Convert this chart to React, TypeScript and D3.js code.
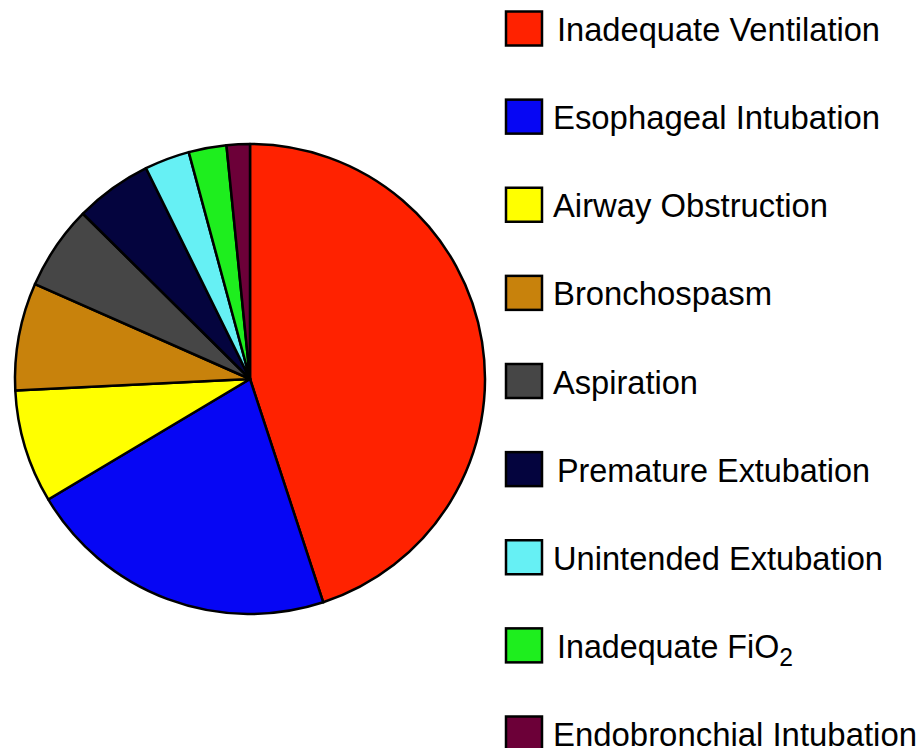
import React from "react";
import * as d3 from "d3";

const categories = [
  "Inadequate Ventilation",
  "Esophageal Intubation",
  "Airway Obstruction",
  "Bronchospasm",
  "Aspiration",
  "Premature Extubation",
  "Unintended Extubation",
  "Inadequate FiO2",
  "Endobronchial Intubation",
];
const values = [45, 21.5, 7.8, 7.4, 5.8, 5.3, 3.1, 2.6, 1.6];
const colors = [
  "#ff2200",
  "#0606f4",
  "#ffff00",
  "#c8820c",
  "#464646",
  "#04043e",
  "#66f0f4",
  "#1eee1e",
  "#6c0038",
];
const labelWidths = [323, 327, 275, 219, 145, 313, 330, 236, 364];
const labelStarts = [557, 553, 553, 553, 553, 557, 553, 557, 553];

export default function App() {
  const W = 921;
  const H = 748;
  const cx = 250;
  const cy = 379;
  const r = 235;

  const pie = d3.pie<number>().sort(null).value((d) => d)(values);
  const arc = d3.arc<d3.PieArcDatum<number>>().innerRadius(0).outerRadius(r);

  const legendY = d3
    .scalePoint<number>()
    .domain(d3.range(categories.length))
    .range([28.5, 733.5]);

  return (
    <svg
      width={W}
      height={H}
      style={{ position: "absolute", left: 0, top: 0, background: "#fff" }}
    >
      <g transform={`translate(${cx},${cy})`}>
        {pie.map((p, i) => (
          <path
            key={i}
            d={arc(p) || ""}
            fill={colors[i]}
            stroke="#000"
            strokeWidth={2.5}
            strokeLinejoin="round"
          />
        ))}
      </g>
      <g>
        {categories.map((c, i) => {
          const y = legendY(i) as number;
          const isFi = c.endsWith("FiO2");
          return (
            <g key={c}>
              <rect
                x={506}
                y={y - 17}
                width={36}
                height={34}
                fill={colors[i]}
                stroke="#000"
                strokeWidth={2.5}
              />
              <text
                x={labelStarts[i]}
                y={y + 12.5}
                fontFamily="'Liberation Sans', Arial, sans-serif"
                fontSize={34}
                fill="#000"
                textLength={labelWidths[i]}
                lengthAdjust="spacingAndGlyphs"
              >
                {isFi ? (
                  <>
                    {c.slice(0, -1)}
                    <tspan dy={8} fontSize={26}>
                      2
                    </tspan>
                  </>
                ) : (
                  c
                )}
              </text>
            </g>
          );
        })}
      </g>
    </svg>
  );
}
